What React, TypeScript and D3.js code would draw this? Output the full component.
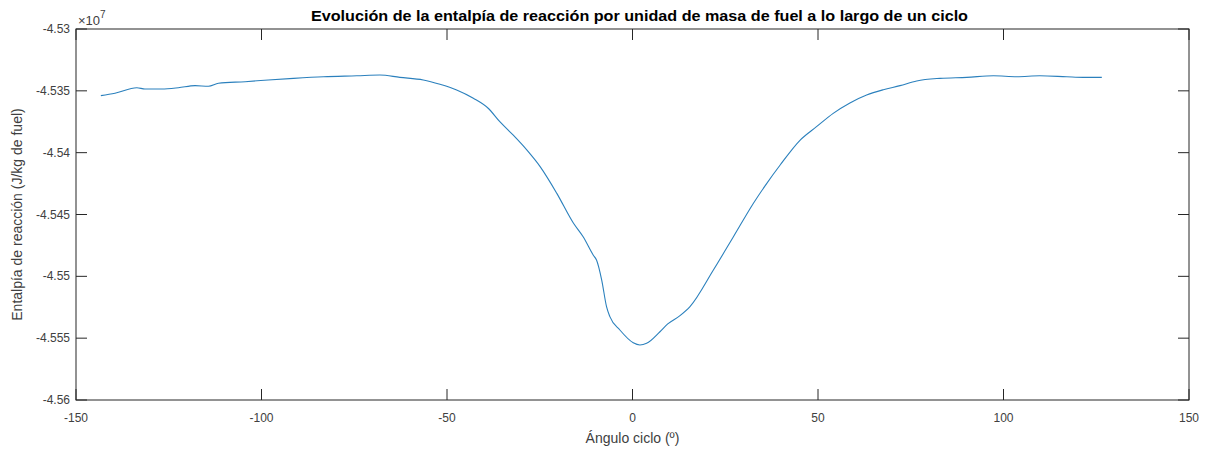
import React from "react";
import * as d3 from "d3";

const W = 1209;
const H = 450;

// Crank angle (degrees)
const angles: number[] = [
  -143.3, -139.5, -133.6, -131.4, -126.9, -122.4, -117.9, -114.3, -111.6, -104.4,
  -98.2, -91.4, -83.3, -74.3, -68.1, -62.7, -56.4, -51.9, -47.4, -42.9,
  -38.9, -35.7, -32.2, -28.5, -24.9, -20.4, -15.9, -13.3, -10.6, -9.7,
  -8.3, -7.0, -6.1, -3.4, 0.2, 2.0, 3.8, 7.4, 9.5, 12.8,
  15.5, 21.8, 27.2, 32.6, 36.2, 39.8, 45.2, 49.6, 54.1, 58.6,
  63.1, 67.6, 72.1, 76.6, 82.9, 90.1, 97.3, 103.6, 109.8, 117.0,
  121.5, 126.5,
];

// Reaction enthalpy (x 1e7 J/kg fuel)
const enthalpy: number[] = [
  -4.53539, -4.5352, -4.53475, -4.53485, -4.53485, -4.53475, -4.53458, -4.53463, -4.53439, -4.53426,
  -4.53412, -4.53399, -4.53386, -4.53378, -4.53372, -4.53391, -4.53412, -4.53447, -4.53493, -4.5356,
  -4.53641, -4.53752, -4.53857, -4.53978, -4.54113, -4.54329, -4.54571, -4.5468, -4.54827, -4.54868,
  -4.5503, -4.55245, -4.55326, -4.55434, -4.55537, -4.55555, -4.55542, -4.55448, -4.55385, -4.55318,
  -4.55245, -4.54949, -4.5468, -4.54409, -4.54248, -4.541, -4.53898, -4.5379, -4.53682, -4.53598,
  -4.53534, -4.53491, -4.53458, -4.5342, -4.53399, -4.53391, -4.53378, -4.53386, -4.53378, -4.53386,
  -4.53391, -4.53391,
];

const xTicks: number[] = [-150, -100, -50, 0, 50, 100, 150];
const yTicks: number[] = [-4.53, -4.535, -4.54, -4.545, -4.55, -4.555, -4.56];
const yTickLabels: string[] = ["-4.53", "-4.535", "-4.54", "-4.545", "-4.55", "-4.555", "-4.56"];

const title = "Evolución de la entalpía de reacción por unidad de masa de fuel a lo largo de un ciclo";
const xLabel = "Ángulo ciclo (º)";
const yLabel = "Entalpía de reacción (J/kg de fuel)";

export default function App() {
  const left = 76, right = 1189, top = 29, bottom = 400;
  const x = d3.scaleLinear().domain([-150, 150]).range([left, right]);
  const y = d3.scaleLinear().domain([-4.56, -4.53]).range([bottom, top]);
  const data = angles.map((a, i) => [a, enthalpy[i]] as [number, number]);
  const line = d3
    .line<[number, number]>()
    .x((d) => x(d[0]))
    .y((d) => y(d[1]))
    .curve(d3.curveMonotoneX);
  const tk = 11;
  const axisColor = "#262626";
  const font = "Liberation Sans, Arial, Helvetica, sans-serif";
  return (
    <svg
      width={W}
      height={H}
      style={{ position: "absolute", left: 0, top: 0, background: "#fff" }}
      fontFamily={font}
    >
      <rect x={0} y={0} width={W} height={H} fill="#fff" />
      <path d={line(data) || ""} fill="none" stroke="#2b80bd" strokeWidth={1.1} />
      <rect
        x={left}
        y={top}
        width={right - left}
        height={bottom - top}
        fill="none"
        stroke={axisColor}
        strokeWidth={1}
      />
      {xTicks.map((t) => (
        <g key={"x" + t}>
          <line x1={x(t)} x2={x(t)} y1={bottom} y2={bottom - tk} stroke={axisColor} />
          <line x1={x(t)} x2={x(t)} y1={top} y2={top + tk} stroke={axisColor} />
          <text x={x(t)} y={422} textAnchor="middle" fontSize={12} fill="#404040">
            {t}
          </text>
        </g>
      ))}
      {yTicks.map((t, i) => (
        <g key={"y" + t}>
          <line x1={left} x2={left + tk} y1={y(t)} y2={y(t)} stroke={axisColor} />
          <line x1={right} x2={right - tk} y1={y(t)} y2={y(t)} stroke={axisColor} />
          <text x={left - 6} y={y(t) + 4} textAnchor="end" fontSize={12} fill="#404040">
            {yTickLabels[i]}
          </text>
        </g>
      ))}
      <text x={78} y={25} fontSize={13} fill="#404040">
        ×10
        <tspan fontSize={10} dy={-7}>7</tspan>
      </text>
      <text
        x={311}
        y={21}
        fontSize={15}
        fontWeight="bold"
        fill="#000"
        textLength={657}
        lengthAdjust="spacingAndGlyphs"
      >
        {title}
      </text>
      <text x={(left + right) / 2} y={443} textAnchor="middle" fontSize={14} fill="#404040">
        {xLabel}
      </text>
      <text
        transform={`translate(22,${(top + bottom) / 2}) rotate(-90)`}
        textAnchor="middle"
        fontSize={14}
        fill="#404040"
      >
        {yLabel}
      </text>
    </svg>
  );
}
